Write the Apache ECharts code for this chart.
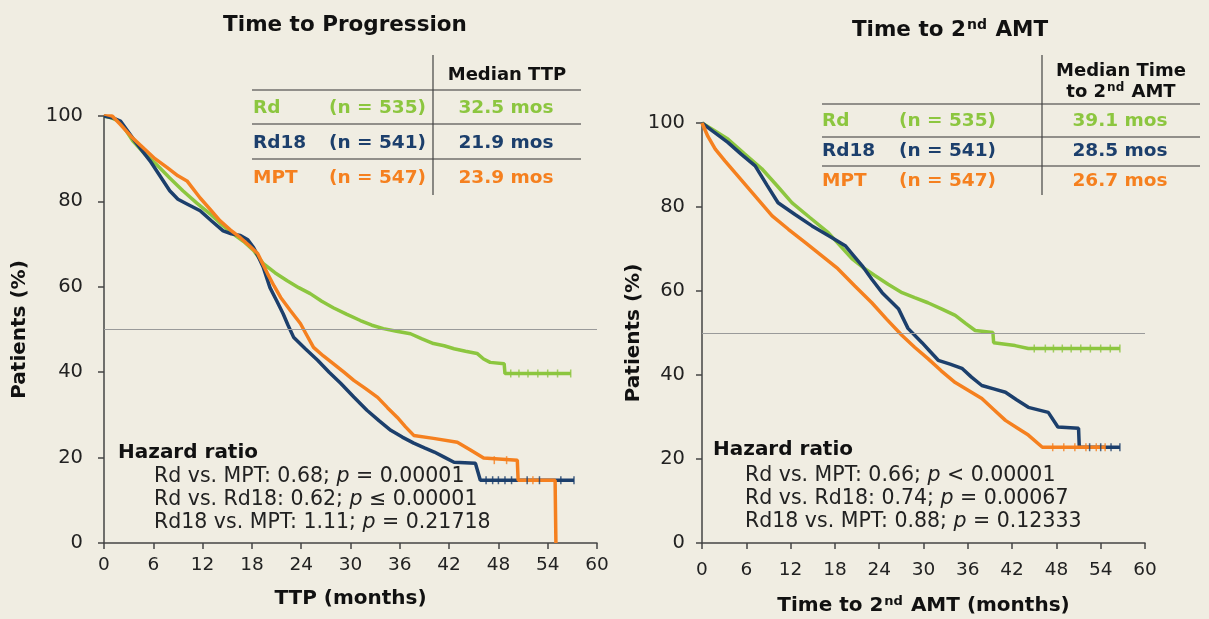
<!DOCTYPE html>
<html>
<head>
<meta charset="utf-8">
<script src="https://cdn.jsdelivr.net/npm/echarts@6/dist/echarts.min.js"></script>
<style>
  html, body { margin: 0; padding: 0; background: #f0ede2; }
  #main { width: 1209px; height: 619px; }
</style>
</head>
<body>
<div id="main"></div>
<script>
// colours of the three arms
var GREEN = '#8cc63f', NAVY = '#1c3f6c', ORANGE = '#f5801f';
var FONT = 'DejaVu Sans';

var monthTicks = [0, 6, 12, 18, 24, 30, 36, 42, 48, 54, 60];

// Time to progression, [month, % patients]
var ttpRd = [[0, 100], [1, 99.5], [2, 98.6], [3.5, 94.2], [5, 91], [6.3, 88.8], [8, 85.5], [9.6, 82.5], [11.3, 79.6], [12.9, 77.1],
  [14.3, 74.6], [15.7, 72.4], [17, 70.6], [18.2, 68.5], [19.4, 65.4], [20.8, 63.3], [22.3, 61.4], [23.7, 59.8], [25.1, 58.4],
  [26.5, 56.6], [27.9, 55.1], [29.5, 53.6], [31.2, 52.1], [32.6, 51], [34, 50.2], [35.6, 49.6], [37.3, 49], [38.7, 47.8],
  [40.1, 46.7], [41.4, 46.2], [42.6, 45.5], [44, 44.9], [45.4, 44.4], [46.2, 43.1], [47, 42.3], [48.7, 42], [48.8, 39.7], [56.8, 39.7]];
var ttpRd18 = [[0, 100], [1, 99.6], [2, 98.8], [3.8, 94], [5.6, 89.5], [6.8, 86], [8, 82.5], [9, 80.5], [10.1, 79.4], [11.7, 77.8],
  [13.1, 75.4], [14.5, 73.1], [15.5, 72.4], [16.6, 72], [17.5, 71], [18.2, 69.2], [18.8, 67], [19.4, 64.5], [20.2, 59.8],
  [21, 56.8], [21.8, 53.7], [22.4, 51], [23.1, 48.1], [24.5, 45.5], [26, 42.8], [27.4, 40], [28.8, 37.4], [30.4, 34.2],
  [32, 31.1], [33.5, 28.6], [34.9, 26.4], [36.3, 24.8], [37.7, 23.4], [39, 22.3], [40.2, 21.3], [41.4, 20.1], [42.6, 18.9],
  [45.2, 18.7], [45.8, 14.7], [57.2, 14.7]];
var ttpMpt = [[0, 100.5], [1, 100], [2, 98], [3.4, 95], [4.8, 92.5], [6.2, 90], [7.7, 87.9], [9, 86], [10.1, 84.8], [11.7, 80.8],
  [12.9, 78.2], [14.1, 75.5], [15.4, 73.3], [16.6, 71.5], [17.7, 69.6], [18.7, 67.8], [19.9, 63.1], [20.7, 60.2], [21.5, 57.5],
  [22.7, 54.4], [23.9, 51.4], [24.7, 48.6], [25.5, 45.8], [26.7, 43.8], [27.9, 42], [29.2, 40], [30.4, 38.1], [31.8, 36.2],
  [33.3, 34.1], [34.5, 31.7], [35.7, 29.4], [36.7, 27.2], [37.7, 25.2], [40.1, 24.5], [43, 23.6], [44.6, 21.8], [46.2, 19.9],
  [50.3, 19.4], [50.4, 14.7], [54.9, 14.7], [55, 0]];

// Time to 2nd AMT, [month, % patients]
var amtRd = [[0, 100], [1.5, 98.4], [3.5, 96.2], [5.8, 92.6], [8.1, 89.1], [10.2, 85], [12.2, 81], [14.6, 77.5], [17.1, 73.9],
  [18.7, 70.8], [20.3, 67.7], [21.8, 65.6], [23.4, 63.7], [25.2, 61.6], [27.1, 59.6], [28.8, 58.4], [30.6, 57.2], [32.5, 55.7],
  [34.3, 54.2], [35.7, 52.3], [37, 50.6], [39.4, 50.1], [39.5, 47.7], [42.4, 47], [44.2, 46.3], [56.6, 46.3]];
var amtRd18 = [[0, 100], [1.5, 98], [3.5, 95.4], [5.3, 92.6], [7.2, 89.8], [8.8, 85.2], [10.3, 81], [12.6, 78.2], [14.9, 75.5],
  [17.1, 73.2], [19.4, 70.8], [20.5, 68.5], [21.7, 66], [23, 62.8], [24.4, 59.6], [25.5, 57.7], [26.6, 55.8], [27.9, 51.1],
  [29.8, 47.7], [30.9, 45.6], [32, 43.5], [33.6, 42.6], [35.2, 41.6], [36.5, 39.5], [37.9, 37.5], [39.5, 36.7], [41.1, 35.9],
  [42.6, 34.1], [44.2, 32.3], [46.9, 31.1], [48.2, 27.6], [51, 27.3], [51.1, 22.8], [56.6, 22.8]];
var amtMpt = [[0, 100], [0.8, 96.8], [1.8, 93.8], [3.1, 91], [4.5, 88.1], [7, 83], [9.5, 77.9], [11.7, 74.7], [14, 71.5],
  [16.2, 68.4], [18.4, 65.3], [20.7, 61.2], [23, 57.2], [25, 53.3], [27.1, 49.4], [28.8, 46.6], [30.6, 43.9], [32.4, 41],
  [34.3, 38.2], [36.1, 36.3], [37.9, 34.4], [39.5, 31.8], [41.1, 29.2], [42.7, 27.4], [44.2, 25.7], [46.1, 22.8], [54.6, 22.8]];

// censor marks on the flat tails
var ttpRdCens = [[49.5, 39.7], [50.5, 39.7], [51.6, 39.7], [52.8, 39.7], [54, 39.7], [55.2, 39.7], [56.8, 39.7]];
var ttpRd18Cens = [[46.5, 14.7], [47.3, 14.7], [48, 14.7], [48.8, 14.7], [49.6, 14.7], [51.5, 14.7], [53, 14.7], [55.6, 14.7], [57.2, 14.7]];
var ttpMptCens = [[47.5, 19.4], [49, 19.4], [52.2, 14.7]];
var amtRdCens = [[45, 46.3], [46.5, 46.3], [47.6, 46.3], [48.8, 46.3], [50, 46.3], [51.3, 46.3], [52.6, 46.3], [54, 46.3], [55.3, 46.3], [56.6, 46.3]];
var amtRd18Cens = [[52.5, 22.8], [54, 22.8], [55.4, 22.8], [56.6, 22.8]];
var amtMptCens = [[47.5, 22.8], [49, 22.8], [50.5, 22.8], [52, 22.8], [53.4, 22.8], [54.6, 22.8]];

// median table rows
var arms = ['Rd', 'Rd18', 'MPT'];
var armN = ['(n = 535)', '(n = 541)', '(n = 547)'];
var armColors = [GREEN, NAVY, ORANGE];
var ttpMedians = ['32.5 mos', '21.9 mos', '23.9 mos'];
var amtMedians = ['39.1 mos', '28.5 mos', '26.7 mos'];

var ttpHazard = [['Rd vs. MPT: 0.68; ', '= 0.00001'], ['Rd vs. Rd18: 0.62; ', '\u2264 0.00001'], ['Rd18 vs. MPT: 1.11; ', '= 0.21718']];
var amtHazard = [['Rd vs. MPT: 0.66; ', '< 0.00001'], ['Rd vs. Rd18: 0.74; ', '= 0.00067'], ['Rd18 vs. MPT: 0.88; ', '= 0.12333']];

function supRich(size, supSize) {
	return {
		b: { fontFamily: FONT, fontWeight: 'bold', fontSize: size, color: '#111' },
		s: { fontFamily: FONT, fontWeight: 'bold', fontSize: supSize, color: '#111', verticalAlign: 'bottom', padding: [0, 1, Math.round(size * 0.45), 1] }
	};
}

function xAxisOf(idx, name, gap, margin) {
	return {
		type: 'value', gridIndex: idx, min: 0, max: 60, interval: 6,
		name: name, nameLocation: 'middle', nameGap: gap,
		nameTextStyle: { fontFamily: FONT, fontWeight: 'bold', fontSize: 20, color: '#111', rich: supRich(20, 13) },
		axisLine: { show: true, lineStyle: { color: '#444', width: 1.5 } },
		axisTick: { show: true, length: 6, lineStyle: { color: '#444', width: 1.5 } },
		axisLabel: { fontFamily: FONT, fontSize: 18.5, color: '#222', margin: margin,
			formatter: function (v) { return monthTicks.indexOf(v) >= 0 ? v : ''; } },
		splitLine: { show: false }
	};
}

function yAxisOf(idx, gap, margin) {
	return {
		type: 'value', gridIndex: idx, min: 0, max: 100, interval: 20,
		name: 'Patients (%)', nameLocation: 'middle', nameGap: gap, nameRotate: 90,
		nameTextStyle: { fontFamily: FONT, fontWeight: 'bold', fontSize: 20, color: '#111' },
		axisLine: { show: true, lineStyle: { color: '#444', width: 1.5 } },
		axisTick: { show: true, length: 6, lineStyle: { color: '#444', width: 1.5 } },
		axisLabel: { fontFamily: FONT, fontSize: 19.5, color: '#222', margin: margin },
		splitLine: { show: false }
	};
}

function curve(idx, data, color, mark) {
	var s = {
		type: 'line', xAxisIndex: idx, yAxisIndex: idx, data: data,
		showSymbol: false, symbol: 'none', smooth: false, z: color === ORANGE ? 4 : 3,
		lineStyle: { color: color, width: 3.5 }, animation: false
	};
	if (mark) {
		s.markLine = {
			silent: true, symbol: 'none', label: { show: false },
			lineStyle: { color: '#9a9a9a', width: 1, type: 'solid' },
			data: [{ yAxis: 50 }]
		};
	}
	return s;
}

function censor(idx, data, color) {
	return {
		type: 'scatter', xAxisIndex: idx, yAxisIndex: idx, data: data,
		symbol: 'rect', symbolSize: [1.5, 8], itemStyle: { color: color },
		z: 5, animation: false, silent: true
	};
}

function tableGraphics(x0, x1, xv, hLines, vTop, vBot, xName, xNright, xMed, rowY, medians) {
	var g = [];
	hLines.forEach(function (y) {
		g.push({ type: 'line', shape: { x1: x0, y1: y, x2: x1, y2: y }, style: { stroke: '#333', lineWidth: 1.2 } });
	});
	g.push({ type: 'line', shape: { x1: xv, y1: vTop, x2: xv, y2: vBot }, style: { stroke: '#444', lineWidth: 1.2 } });
	arms.forEach(function (a, i) {
		var f = 'bold 18.5px "' + FONT + '"';
		g.push({ type: 'text', style: { text: a, x: xName, y: rowY[i], font: f, fill: armColors[i], align: 'left', verticalAlign: 'middle' } });
		g.push({ type: 'text', style: { text: armN[i], x: xNright, y: rowY[i], font: f, fill: armColors[i], align: 'right', verticalAlign: 'middle' } });
		g.push({ type: 'text', style: { text: medians[i], x: xMed, y: rowY[i], font: f, fill: armColors[i], align: 'center', verticalAlign: 'middle' } });
	});
	return g;
}

function hazardGraphics(xh, yh, xl, ys, rows) {
	var g = [{ type: 'text', style: { text: 'Hazard ratio', x: xh, y: yh, font: 'bold 20px "' + FONT + '"', fill: '#111', align: 'left', verticalAlign: 'middle' } }];
	rows.forEach(function (r, i) {
		g.push({
			type: 'text',
			style: {
				text: '{a|' + r[0] + '}{i|p}{a| ' + r[1] + '}', x: xl, y: ys[i], align: 'left', verticalAlign: 'middle',
				rich: {
					a: { fontFamily: FONT, fontSize: 20.5, fill: '#222' },
					i: { fontFamily: FONT, fontSize: 20.5, fontStyle: 'italic', fill: '#222' }
				}
			}
		});
	});
	return g;
}

var graphics = []
	.concat(tableGraphics(252, 581, 433, [90, 124, 159], 55, 195, 253, 426, 506, [108, 143, 178], ttpMedians))
	.concat(tableGraphics(822, 1200, 1042, [104, 137, 166], 55, 195, 822, 996, 1120, [121, 151, 181], amtMedians))
	.concat(hazardGraphics(118, 453, 154, [477, 500, 523], ttpHazard))
	.concat(hazardGraphics(713, 450, 745, [476, 499, 522], amtHazard));

graphics.push({ type: 'text', style: { text: 'Median TTP', x: 507, y: 75, font: 'bold 18px "' + FONT + '"', fill: '#111', align: 'center', verticalAlign: 'middle' } });
graphics.push({ type: 'text', style: { text: 'Median Time', x: 1121, y: 71, font: 'bold 18px "' + FONT + '"', fill: '#111', align: 'center', verticalAlign: 'middle' } });
graphics.push({
	type: 'text',
	style: {
		text: '{b|to 2}{s|nd}{b| AMT}', x: 1121, y: 92, align: 'center', verticalAlign: 'middle',
		rich: {
			b: { fontFamily: FONT, fontWeight: 'bold', fontSize: 18, fill: '#111' },
			s: { fontFamily: FONT, fontWeight: 'bold', fontSize: 12, fill: '#111', verticalAlign: 'bottom', padding: [0, 1, 8, 1] }
		}
	}
});

var chart = echarts.init(document.getElementById('main'));
chart.setOption({
	backgroundColor: '#f0ede2',
	animation: false,
	title: [
		{ text: 'Time to Progression', left: 340, top: 9, textAlign: 'center',
			textStyle: { fontFamily: FONT, fontWeight: 'bold', fontSize: 21.5, color: '#111' } },
		{ text: '{b|Time to 2}{s|nd}{b| AMT}', left: 945, top: 13, textAlign: 'center',
			textStyle: { rich: supRich(21.5, 14) } }
	],
	grid: [
		{ left: 104, right: 612, top: 116, bottom: 76, outerBoundsMode: 'none' },
		{ left: 702, right: 64, top: 123, bottom: 76, outerBoundsMode: 'none' }
	],
	xAxis: [
		xAxisOf(0, 'TTP (months)', 46, 13),
		xAxisOf(1, '{b|Time to 2}{s|nd}{b| AMT (months)}', 52, 18)
	],
	yAxis: [yAxisOf(0, 74, 21), yAxisOf(1, 50, 17)],
	series: [
		curve(0, ttpRd, GREEN, true),
		curve(0, ttpRd18, NAVY),
		curve(0, ttpMpt, ORANGE),
		censor(0, ttpRdCens, GREEN),
		censor(0, ttpRd18Cens, NAVY),
		censor(0, ttpMptCens, ORANGE),
		curve(1, amtRd, GREEN, true),
		curve(1, amtRd18, NAVY),
		curve(1, amtMpt, ORANGE),
		censor(1, amtRdCens, GREEN),
		censor(1, amtRd18Cens, NAVY),
		censor(1, amtMptCens, ORANGE)
	],
	graphic: graphics
});
</script>
</body>
</html>
